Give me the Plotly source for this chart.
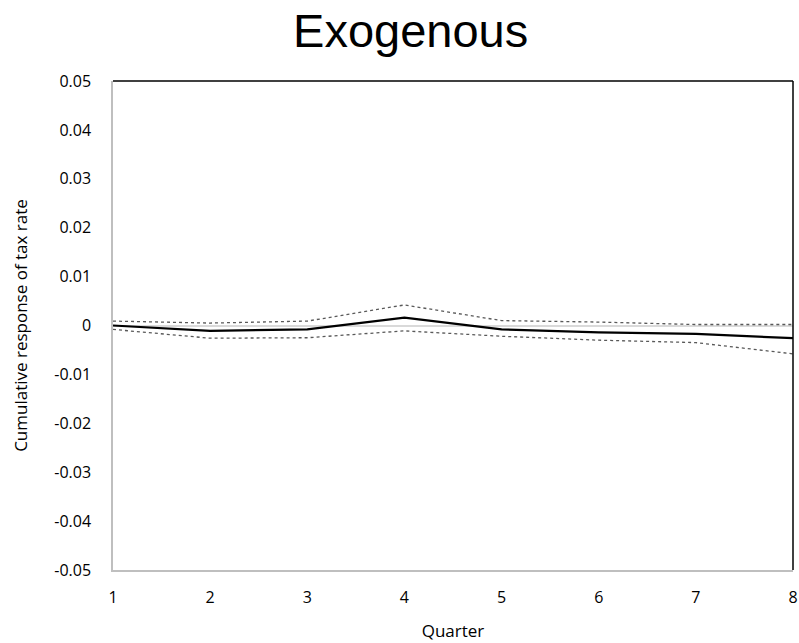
import plotly.graph_objects as go

quarters = [1, 2, 3, 4, 5, 6, 7, 8]
response = [0.0000, -0.0011, -0.0008, 0.0016, -0.0008, -0.0014, -0.0017, -0.0026]
upper = [0.0009, 0.0005, 0.0009, 0.0042, 0.0010, 0.0007, 0.0002, 0.0002]
lower = [-0.0008, -0.0026, -0.0025, -0.0011, -0.0022, -0.0030, -0.0035, -0.0058]
y_ticks = [0.05, 0.04, 0.03, 0.02, 0.01, 0, -0.01, -0.02, -0.03, -0.04, -0.05]
y_tick_text = ["0.05", "0.04", "0.03", "0.02", "0.01", "0", "-0.01", "-0.02", "-0.03", "-0.04", "-0.05"]

fig = go.Figure()
fig.add_trace(go.Scatter(x=quarters, y=upper, mode="lines",
                         line=dict(color="#595959", width=1.3, dash="3px,3px"), showlegend=False))
fig.add_trace(go.Scatter(x=quarters, y=lower, mode="lines",
                         line=dict(color="#595959", width=1.3, dash="3px,3px"), showlegend=False))
fig.add_trace(go.Scatter(x=quarters, y=response, mode="lines",
                         line=dict(color="black", width=2.2), showlegend=False))

font_family = "Open Sans, Lato, sans-serif"
fig.update_layout(
    width=799, height=643,
    margin=dict(l=113, r=6, t=81, b=73),
    paper_bgcolor="white", plot_bgcolor="white",
    title=dict(text="Exogenous", x=0.514, xref="container", xanchor="center",
               y=0.953, yref="container", yanchor="middle",
               font=dict(family="Liberation Sans, Arial, sans-serif", size=47, color="black")),
    xaxis=dict(range=[1, 8], tickvals=quarters, ticktext=[str(q) for q in quarters],
               showgrid=False, zeroline=False, showline=True, linecolor="#bfbfbf", linewidth=1.5,
               ticks="", ticklabelstandoff=12, ticklabeloverflow="allow", automargin=False,
               tickfont=dict(family=font_family, size=16, color="black"),
               title=dict(text="Quarter", font=dict(family=font_family, size=17, color="black"), standoff=18)),
    yaxis=dict(range=[-0.05, 0.05], tickvals=y_ticks, ticktext=y_tick_text,
               showgrid=False, zeroline=True, zerolinecolor="#d9d9d9", zerolinewidth=1.5,
               showline=True, linecolor="#bfbfbf", linewidth=1.5,
               ticks="", ticklabelstandoff=17, automargin=False,
               tickfont=dict(family=font_family, size=16, color="black"),
               title=dict(text="Cumulative response of tax rate",
                          font=dict(family=font_family, size=17, color="black"), standoff=22)),
)
fig.add_shape(type="line", xref="paper", yref="paper", x0=0, x1=1, y0=1, y1=1,
              line=dict(color="black", width=1.5))
fig.add_shape(type="line", xref="paper", yref="paper", x0=1, x1=1, y0=0, y1=1,
              line=dict(color="black", width=1.5))

fig.write_html("out.html")
